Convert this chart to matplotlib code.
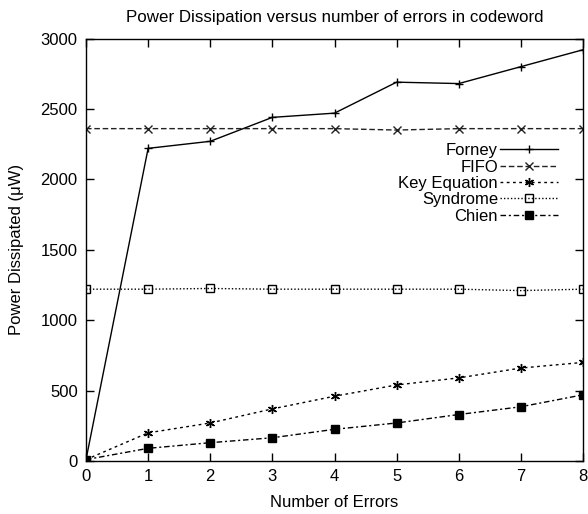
import numpy as np
import matplotlib.pyplot as plt

plt.rcParams['font.family'] = ['Liberation Sans', 'DejaVu Sans']
plt.rcParams['font.size'] = 12

errors = [0, 1, 2, 3, 4, 5, 6, 7, 8]
forney = [10, 2220, 2270, 2440, 2470, 2690, 2680, 2800, 2920]
fifo = [2360, 2360, 2360, 2360, 2360, 2350, 2360, 2360, 2360]
key_equation = [10, 200, 270, 370, 460, 540, 590, 660, 700]
syndrome = [1220, 1220, 1225, 1220, 1220, 1220, 1220, 1210, 1220]
chien = [10, 90, 130, 165, 225, 270, 330, 385, 470]

asterisk = (6, 2, 0)

fig = plt.figure(figsize=(5.88, 5.14), dpi=100)
ax = fig.add_axes([86 / 588, 53 / 514, 497 / 588, 422.5 / 514])

ax.plot(errors, forney, color='black', lw=1, ls='-', marker='+', ms=6, mew=1, label='Forney')
ax.plot(errors, fifo, color='#222222', lw=1, ls=(0, (4, 2)), marker='x', ms=5.5, mew=1, label='FIFO')
ax.plot(errors, key_equation, color='black', lw=1, ls=(0, (2, 2.5)), marker=asterisk, ms=6.5, mew=1,
        label='Key Equation')
ax.plot(errors, syndrome, color='black', lw=1, ls=(0, (1, 1.5)), marker='s', ms=5.5, mfc='none', mew=1,
        label='Syndrome')
ax.plot(errors, chien, color='black', lw=1, ls=(0, (4, 2, 1.5, 2)), marker='s', ms=5.5, mfc='black',
        label='Chien')

ax.set_xlim(0, 8)
ax.set_ylim(0, 3000)
ax.set_xticks(range(0, 9))
ax.set_yticks(range(0, 3001, 500))
ax.tick_params(direction='in', top=True, right=True, length=6, width=1, pad=6)
for s in ax.spines.values():
    s.set_linewidth(1)

ax.set_xlabel('Number of Errors', labelpad=8)
ax.set_ylabel('Power Dissipated (\u03bcW)', labelpad=12)
ax.set_title('Power Dissipation versus number of errors in codeword', fontsize=12.2, pad=12)

ax.legend(loc='upper right', bbox_to_anchor=(0.9497, 0.752), frameon=False, markerfirst=False,
          borderpad=0, borderaxespad=0, handlelength=3.5, handletextpad=0.1, labelspacing=0.08)

fig.savefig('out.png', dpi=100)
